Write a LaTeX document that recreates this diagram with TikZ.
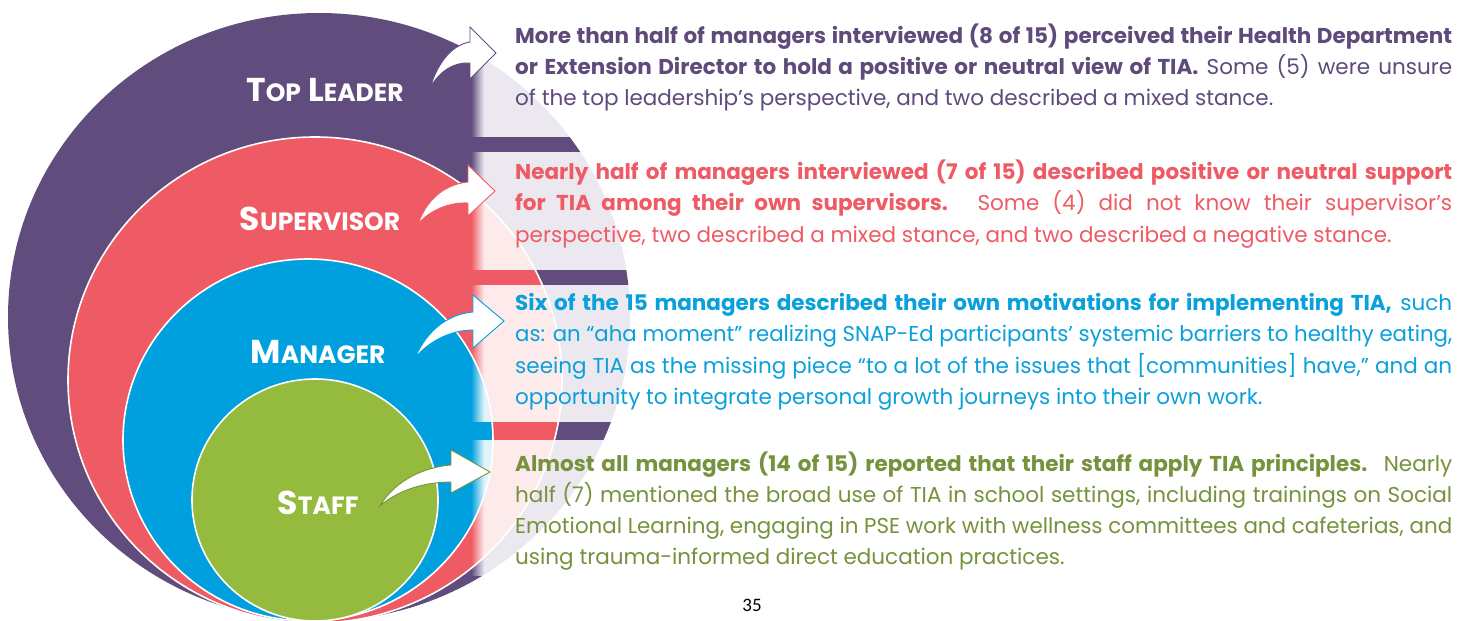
\documentclass[tikz,border=0pt]{standalone}
\usepackage{fontspec}
\setmainfont{Poppins}
\newfontfamily\numfont{Carlito}
\usepackage{graphicx}
\usetikzlibrary{fadings}
\definecolor{cPurple}{HTML}{604C7D}
\definecolor{cRed}{HTML}{EF5B64}
\definecolor{cBlue}{HTML}{00A0DE}
\definecolor{cGreen}{HTML}{94BB3E}
\definecolor{tPurple}{HTML}{5F4B7B}
\definecolor{tRed}{HTML}{EF5B64}
\definecolor{tBlue}{HTML}{0AA0DC}
\definecolor{tGreen}{HTML}{76923C}
\newlength\TW \setlength\TW{937bp}
\newlength\jlw
\newcommand\jline[1]{\settowidth\jlw{#1}\ifdim\jlw>\TW\resizebox{\TW}{\height}{#1}\else\makebox[\TW][s]{#1}\fi}
\newcommand\lline[1]{\settowidth\jlw{#1}\ifdim\jlw>\TW\resizebox{\TW}{\height}{#1}\else #1\fi}
\newcommand\sm[1]{{\fontsize{25bp}{25bp}\selectfont #1}}
\newcommand\panel[2]{%
  \fill[veil, path fading=west] (471,#1) rectangle (484,#2);
  \fill[veil] (484,#1) rectangle (1471,#2);}
\tikzset{
  ring/.style={fill=#1, draw=white, line width=1.6bp},
  veil/.style={fill=white, fill opacity=0.88},
  blockarrow/.style={fill=white, draw=#1, line width=0.9bp, line join=miter},
  lbl/.style={anchor=base, inner sep=0, text=white, font=\fontsize{33bp}{33bp}\selectfont\bfseries},
  txt/.style={anchor=base west, inner sep=0, text=#1, font=\fontsize{21.5bp}{31bp}\selectfont},
}
\begin{document}
\begin{tikzpicture}[x=1bp,y=-1bp]
\useasboundingbox (0,0) rectangle (1471,621);
\clip (0,0) rectangle (1471,621);
\fill[white] (0,0) rectangle (1471,621);
% nested circles
\fill[cPurple] (319,317) ellipse [x radius=311, y radius=304];
\path[ring=cRed] (315,380) ellipse [x radius=247, y radius=243];
\path[ring=cBlue] (308,440) ellipse [x radius=185, y radius=181];
\path[ring=cGreen] (315,500) ellipse [x radius=123, y radius=121];
% translucent text panels
\panel{10}{137}
\panel{152}{270}
\panel{285}{422}
\panel{440}{576}
% labels
\node[lbl] (top) at (325,102) {T\sm{OP} L\sm{EADER}};
\node[lbl] (sup) at (320,230) {S\sm{UPERVISOR}};
\node[lbl] (man) at (318,363) {M\sm{ANAGER}};
\node[lbl] (sta) at (318,514) {S\sm{TAFF}};
% curved block arrows
\draw[blockarrow=cPurple] (430,88) .. controls (438,62) and (452,45) .. (470,42) -- (470,27) -- (496,53) -- (470,79) -- (470,63) .. controls (455,62) and (440,70) .. cycle;
\draw[blockarrow=cRed] (418,224) .. controls (428,196) and (448,184) .. (468,182) -- (468,165) -- (495,191) -- (468,216) -- (468,203) .. controls (450,202) and (430,210) .. cycle;
\draw[blockarrow=cBlue] (415,358) .. controls (428,328) and (450,314) .. (473,312) -- (473,295) -- (504,321) -- (473,348) -- (473,330) .. controls (452,330) and (430,340) .. cycle;
\draw[blockarrow=tGreen] (380,506) .. controls (395,480) and (425,467) .. (451,465) -- (451,450) -- (490,472) -- (451,493) -- (451,482) .. controls (425,482) and (398,490) .. cycle;
% paragraph 1
\node[txt=tPurple] (p1a) at (515,44) {\jline{\textbf{More than half of managers interviewed (8 of 15) perceived their Health Department}}};
\node[txt=tPurple] (p1b) at (515,75) {\jline{\textbf{or Extension Director to hold a positive or neutral view of TIA.} Some (5) were unsure}};
\node[txt=tPurple] (p1c) at (515,106) {\lline{of the top leadership’s perspective, and two described a mixed stance.}};
% paragraph 2
\node[txt=tRed] (p2a) at (515,180) {\jline{\textbf{Nearly half of managers interviewed (7 of 15) described positive or neutral support}}};
\node[txt=tRed] (p2b) at (515,211) {\jline{\textbf{for TIA among their own supervisors.} Some (4) did not know their supervisor’s}};
\node[txt=tRed] (p2c) at (515,242) {\lline{perspective, two described a mixed stance, and two described a negative stance.}};
% paragraph 3
\node[txt=tBlue] (p3a) at (515,310) {\jline{\textbf{Six of the 15 managers described their own motivations for implementing TIA,} such}};
\node[txt=tBlue] (p3b) at (515,341) {\jline{as: an “aha moment” realizing SNAP-Ed participants’ systemic barriers to healthy eating,}};
\node[txt=tBlue] (p3c) at (515,373) {\jline{seeing TIA as the missing piece “to a lot of the issues that [communities] have,” and an}};
\node[txt=tBlue] (p3d) at (515,404) {\lline{opportunity to integrate personal growth journeys into their own work.}};
% paragraph 4
\node[txt=tGreen] (p4a) at (515,471) {\jline{\textbf{Almost all managers (14 of 15) reported that their staff apply TIA principles.} Nearly}};
\node[txt=tGreen] (p4b) at (515,502) {\jline{half (7) mentioned the broad use of TIA in school settings, including trainings on Social}};
\node[txt=tGreen] (p4c) at (515,533) {\jline{Emotional Learning, engaging in PSE work with wellness committees and cafeterias, and}};
\node[txt=tGreen] (p4d) at (515,564) {\lline{using trauma-informed direct education practices.}};
% page number
\node[anchor=base, inner sep=0, font=\numfont\fontsize{19bp}{19bp}\selectfont] (pg) at (752,611) {35};
\end{tikzpicture}
\end{document}
